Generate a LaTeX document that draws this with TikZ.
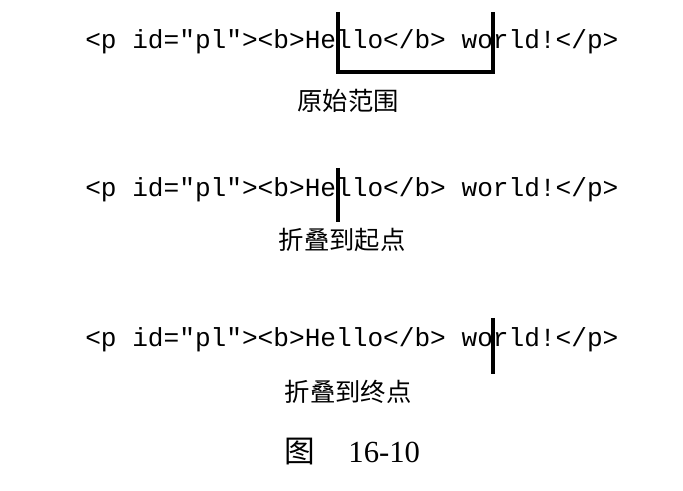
\documentclass[tikz,border=0pt]{standalone}
\usepackage{fontspec}
\setmainfont{Liberation Serif}
\newfontfamily\codefont{Liberation Mono}
\newfontfamily\cjk{Noto Sans CJK SC}
\begin{document}
\begin{tikzpicture}[x=0.75pt,y=-0.75pt,
  code/.style={anchor=base west,inner sep=0,font=\codefont\fontsize{19.6}{22}\selectfont},
  lab/.style={inner sep=0,font=\cjk\fontsize{19}{22}\selectfont},
  cur/.style={line width=2.5pt}]
\useasboundingbox (0,0) rectangle (683,491);
\node[code] (c1) at (85,49) {<p id="pl"><b>Hello</b> world!</p>};
\node[code] (c2) at (85,197) {<p id="pl"><b>Hello</b> world!</p>};
\node[code] (c3) at (85,347) {<p id="pl"><b>Hello</b> world!</p>};
\draw[cur] (338,12) -- (338,72) -- (493,72) -- (493,12);
\draw[cur] (338,168) -- (338,222);
\draw[cur] (493,318) -- (493,374);
\node[lab] (l1) at (348,101) {原始范围};
\node[lab] (l2) at (342,240) {折叠到起点};
\node[lab] (l3) at (348,392) {折叠到终点};
\node[inner sep=0,font=\fontsize{23}{26}\selectfont] (fig) at (352,452) {{\cjk 图}\hspace{1.1em}16-10};
\end{tikzpicture}
\end{document}
